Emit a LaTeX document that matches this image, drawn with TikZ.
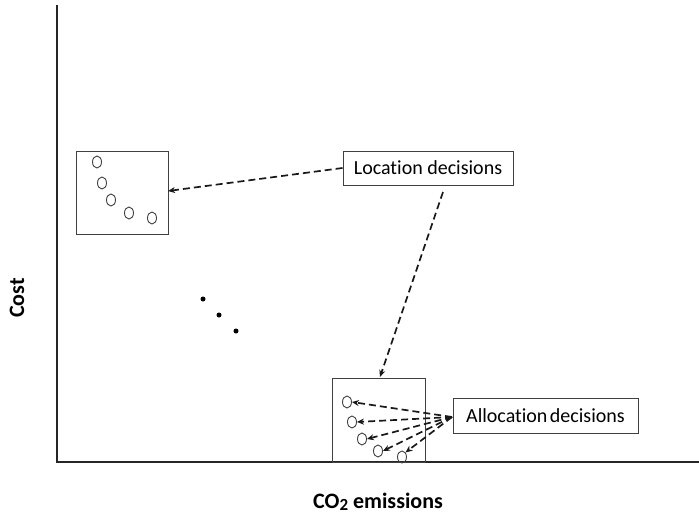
\documentclass[tikz,border=0pt]{standalone}
\usepackage{fontspec}
\setmainfont{Carlito}[Ligatures={NoCommon}]
\usetikzlibrary{arrows.meta,shapes.geometric}
\begin{document}
\begin{tikzpicture}[x=1pt,y=-1pt,
  axisline/.style={line width=1.6pt,black!85},
  framebox/.style={draw=black!75,line width=0.9pt},
  labelbox/.style={draw=black!75,line width=0.9pt,fill=white,inner sep=0pt,font=\fontsize{20}{22}\selectfont},
  sol/.style={draw=black!75,line width=0.9pt,ellipse,minimum width=9pt,minimum height=12pt,inner sep=0pt},
  dashedarrow/.style={black!90,dash pattern=on 7pt off 4pt,line width=1.7pt,-{Stealth[length=7pt,width=6pt]}},
  dotn/.style={circle,fill=black,inner sep=0pt,minimum size=5pt},
  axlabel/.style={font=\bfseries\fontsize{22}{24}\selectfont}]
\useasboundingbox (0,0) rectangle (699,516);
% axes
\coordinate (o) at (57,462);
\coordinate (ytop) at (57,5);
\coordinate (xend) at (699,462);
\draw[axisline] (ytop) -- (o) -- (xend);
\node[axlabel,rotate=90] (ylab) at (17,298) {Cost};
\node[axlabel] (xlab) at (378,502) {CO{\fontsize{17}{18}\selectfont\raisebox{-1.5pt}{2}} emissions};
% left box
\node[framebox,minimum width=92pt,minimum height=83pt,inner sep=0pt] (lbox) at (122,192.5) {};
\node[sol] (a1) at (97,162) {};
\node[sol] (a2) at (102,183) {};
\node[sol] (a3) at (111,200) {};
\node[sol] (a4) at (129,213) {};
\node[sol] (a5) at (152,218) {};
% bottom box
\node[framebox,minimum width=93pt,minimum height=84pt,inner sep=0pt] (bbox) at (378.5,420) {};
\node[sol] (b1) at (347,402) {};
\node[sol] (b2) at (352,422) {};
\node[sol] (b3) at (362,439) {};
\node[sol] (b4) at (378,451) {};
\node[sol] (b5) at (402,457) {};
% dots
\node[dotn] (d1) at (203,299) {};
\node[dotn] (d2) at (219,315) {};
\node[dotn] (d3) at (236,331) {};
% labels
\node[labelbox,minimum width=170pt,minimum height=34pt] (loc) at (428,168) {Location decisions};
\node[labelbox,minimum width=185pt,minimum height=35pt] (alloc) at (545.5,415.5) {Allocation\hspace{-2pt} decisions};
\coordinate (locsrc) at (443,192);
\coordinate (allsrc) at (452,417);
\coordinate (ltip) at (168,191);
\coordinate (btip) at (380,377);
% arrows
\draw[dashedarrow] (loc.west) -- (ltip);
\draw[dashedarrow] (locsrc) -- (btip);
\draw[dashedarrow] (allsrc) -- (b1.east);
\draw[dashedarrow] (allsrc) -- (b2.east);
\draw[dashedarrow] (allsrc) -- (b3.east);
\draw[dashedarrow] (allsrc) -- (b4.east);
\draw[dashedarrow] (allsrc) -- (b5.north east);
\end{tikzpicture}
\end{document}
